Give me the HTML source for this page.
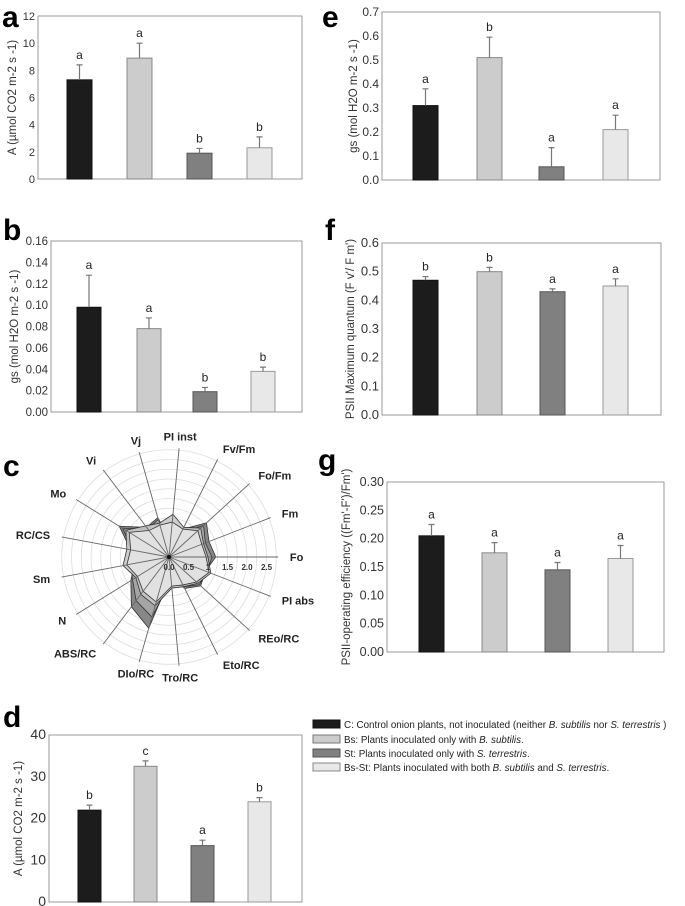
<!DOCTYPE html>
<html><head><meta charset="utf-8"><style>
body{margin:0;background:#fff}
svg{display:block;font-family:"Liberation Sans",Arial,sans-serif}
</style></head><body>
<svg id="fig" width="685" height="906" viewBox="0 0 685 906" xmlns="http://www.w3.org/2000/svg">
<g font-weight="bold" font-size="30" fill="#000">
<text x="2" y="27">a</text>
<text x="322" y="27">e</text>
<text x="3" y="240">b</text>
<text x="325" y="240">f</text>
<text x="3" y="476">c</text>
<text x="318" y="470">g</text>
<text x="3" y="727">d</text>
</g>
<g id="legend" font-size="9.8" fill="#222">
<rect x="313" y="720" width="27" height="8" fill="#1c1c1c" stroke="#111"/>
<text x="344" y="728">C: Control onion plants, not inoculated (neither <tspan font-style="italic">B. subtilis</tspan> nor <tspan font-style="italic">S. terrestris</tspan> )</text>
<rect x="313" y="735" width="27" height="8" fill="#cccccc" stroke="#777"/>
<text x="344" y="743">Bs: Plants inoculated only with <tspan font-style="italic">B. subtilis</tspan>.</text>
<rect x="313" y="749" width="27" height="8" fill="#808080" stroke="#555"/>
<text x="344" y="757">St: Plants inoculated only with <tspan font-style="italic">S. terrestris</tspan>.</text>
<rect x="313" y="763" width="27" height="8" fill="#e8e8e8" stroke="#888"/>
<text x="344" y="771">Bs-St: Plants inoculated with both <tspan font-style="italic">B. subtilis</tspan> and <tspan font-style="italic">S. terrestris</tspan>.</text>
</g>
</svg>
<script>
// ---- bar chart data ----
const groups = ["C","Bs","St","Bs-St"];
const aValues = [7.3, 8.9, 1.9, 2.3];
const aErrors = [1.1, 1.1, 0.35, 0.8];
const aLetters = ["a","a","b","b"];
const aTicks = ["0","2","4","6","8","10","12"];
const bValues = [0.098, 0.078, 0.019, 0.038];
const bErrors = [0.030, 0.010, 0.004, 0.004];
const bLetters = ["a","a","b","b"];
const bTicks = ["0.00","0.02","0.04","0.06","0.08","0.10","0.12","0.14","0.16"];
const eValues = [0.31, 0.51, 0.055, 0.21];
const eErrors = [0.07, 0.085, 0.08, 0.06];
const eLetters = ["a","b","a","a"];
const eTicks = ["0.0","0.1","0.2","0.3","0.4","0.5","0.6","0.7"];
const fValues = [0.47, 0.50, 0.43, 0.45];
const fErrors = [0.013, 0.015, 0.01, 0.025];
const fLetters = ["b","b","a","a"];
const fTicks = ["0.0","0.1","0.2","0.3","0.4","0.5","0.6"];
const gValues = [0.205, 0.175, 0.145, 0.165];
const gErrors = [0.02, 0.018, 0.013, 0.023];
const gLetters = ["a","a","a","a"];
const gTicks = ["0.00","0.05","0.10","0.15","0.20","0.25","0.30"];
const dValues = [22, 32.5, 13.5, 24];
const dErrors = [1.2, 1.3, 1.3, 1.0];
const dLetters = ["b","c","a","b"];
const dTicks = ["0","10","20","30","40"];
// ---- radar data ----
const radarAxes = ["Fo","Fm","Fo/Fm","Fv/Fm","PI inst","Vj","Vi","Mo","RC/CS","Sm","N","ABS/RC","DIo/RC","Tro/RC","Eto/RC","REo/RC","PI abs"];
const radarC = [1.2,1.1,1.3,0.8,0.4,1.05,0.95,1.5,1.0,0.9,1.15,1.6,1.9,0.5,0.9,1.1,1.0];
const radarBs = [1.0,0.95,1.1,0.85,1.1,0.9,1.0,1.3,1.1,1.2,1.0,1.2,1.3,0.8,0.85,1.0,1.15];
const radarSt = [1.1,1.0,1.2,0.7,0.5,1.0,0.9,1.4,0.95,1.0,1.1,1.4,1.6,0.6,0.85,1.05,1.05];
const radarBsSt = [0.95,0.9,1.0,0.8,0.9,0.85,0.85,1.2,1.0,1.1,0.95,1.1,1.2,0.75,0.8,0.95,1.1];
const radarTicks = ["0.0","0.5","1","1.5","2.0","2.5"];
const radarTickValues = [0,0.5,1,1.5,2,2.5];

const NS = "http://www.w3.org/2000/svg";
const svg = document.getElementById("fig");
const fills = ["#1c1c1c","#cccccc","#808080","#e8e8e8"];
const strokes = ["#111","#888","#555","#999"];
function mk(tag, attrs, parent){const e=document.createElementNS(NS,tag);for(const k in attrs)e.setAttribute(k,attrs[k]);(parent||svg).appendChild(e);return e;}

function barChart(id, box, vals, errs, letters, ticks, ymax, barX, barW, title, titleX, tickFont){
  const g = mk("g",{});
  
  
  const y = v => box.b - (v/ymax)*(box.b-box.t);
  const frame = mk("rect",{x:box.l,y:box.t,width:box.r-box.l,height:box.b-box.t,fill:"none",stroke:"#999","stroke-width":1},g);
  
  
  ticks.forEach((t,i)=>{
    const v = ymax*i/(ticks.length-1);
    const tx = mk("text",{x:box.l-3,y:y(v)+4,"text-anchor":"end","font-size":tickFont,fill:"#333"},g);
    tx.textContent = t;
    
    
  });
  vals.forEach((v,i)=>{
    const x0 = barX[i];
    const r = mk("rect",{x:x0,y:y(v),width:barW,height:box.b-y(v),fill:fills[i],stroke:strokes[i],"stroke-width":1},g);
    
    
    const cx = x0+barW/2, ye = y(v+errs[i]);
    const eb = mk("path",{d:`M${cx},${y(v)}V${ye}M${cx-3},${ye}H${cx+3}`,stroke:"#777","stroke-width":1.2,fill:"none"},g);
    
    
    const lt = mk("text",{x:cx,y:ye-6,"text-anchor":"middle","font-size":12,fill:"#222"},g);
    lt.textContent = letters[i];
    
    
  });
  const cy = (box.t+box.b)/2;
  const tt = mk("text",{x:titleX,y:cy,"text-anchor":"middle","font-size":11.5,fill:"#333",transform:`rotate(-90 ${titleX} ${cy})`},g);
  tt.textContent = title;
  
  
}

barChart("a",{l:38,r:302,t:16,b:179},aValues,aErrors,aLetters,aTicks,12,[67,127,187,247],25,"A (µmol CO2 m-2 s -1)",16,11);
barChart("b",{l:51,r:302,t:241,b:412},bValues,bErrors,bLetters,bTicks,0.16,[77,137,193,251],24,"gs (mol H2O m-2 s -1)",18,11.5);
barChart("d",{l:49,r:302,t:735,b:902},dValues,dErrors,dLetters,dTicks,40,[78,134,191,248],23,"A (µmol CO2 m-2 s -1)",22,14);
barChart("e",{l:382,r:660,t:12,b:180},eValues,eErrors,eLetters,eTicks,0.7,[413,477,539,603],25,"gs (mol H2O m-2 s -1)",357,12);
barChart("f",{l:382,r:661,t:243,b:415},fValues,fErrors,fLetters,fTicks,0.6,[413,477,540,603],25,"PSII Maximum quantum (F v'/ F m')",354,13);
barChart("g",{l:387,r:664,t:482,b:652},gValues,gErrors,gLetters,gTicks,0.30,[419,482,545,608],25,"PSII-operating efficiency ((Fm'-F')/Fm')",350,12.5);

// ---- radar ----
(function(){
  const cx=169, cy=557, k=39, rmax=2.8;
  const rg = mk("g",{});
  
  
  const n = radarAxes.length;
  const pt = (i,v)=>{const a=i*2*Math.PI/n;return [cx+v*k*Math.cos(a), cy-v*k*Math.sin(a)];};
  for(let r=0.25;r<=2.76;r+=0.25){
    const c = mk("circle",{cx,cy,r:r*k,fill:"none",stroke:"#ddd","stroke-width":0.8},rg);
    
    
  }
  const series=[[radarC,"#7a7a7a"],[radarSt,"#a8a8a8"],[radarBs,"#c8c8c8"],[radarBsSt,"#e4e4e4"]];
  const names=["c","st","bs","bsst"];
  series.forEach((s,si)=>{
    const d = s[0].map((v,i)=>pt(i,v).join(",")).join(" ");
    const p = mk("polygon",{points:d,fill:s[1],stroke:"#333","stroke-width":0.8,"fill-opacity":0.9},rg);
    
    
  });
  radarAxes.forEach((lab,i)=>{
    const [x,y]=pt(i,rmax);
    const l = mk("line",{x1:cx,y1:cy,x2:x,y2:y,stroke:"#666","stroke-width":0.9},rg);
    
    
    const a=i*2*Math.PI/n;
    const [lx,ly]=pt(i,rmax+0.3);
    const c=Math.cos(a);
    const t = mk("text",{x:lx,y:ly+4,"text-anchor":c>0.3?"start":(c<-0.3?"end":"middle"),"font-size":11,"font-weight":"bold",fill:"#222"},rg);
    t.textContent=lab;
    
    
  });
  mk("circle",{cx,cy,r:2,fill:"#111"},rg);
  radarTicks.forEach((t,i)=>{
    const x=cx+radarTickValues[i]*k;
    const tx=mk("text",{x:x,y:cy+13,"text-anchor":"middle","font-size":8,"font-weight":"bold",fill:"#333"},rg);
    tx.textContent=t;
    
    
  });
})();
</script>
</body></html>
